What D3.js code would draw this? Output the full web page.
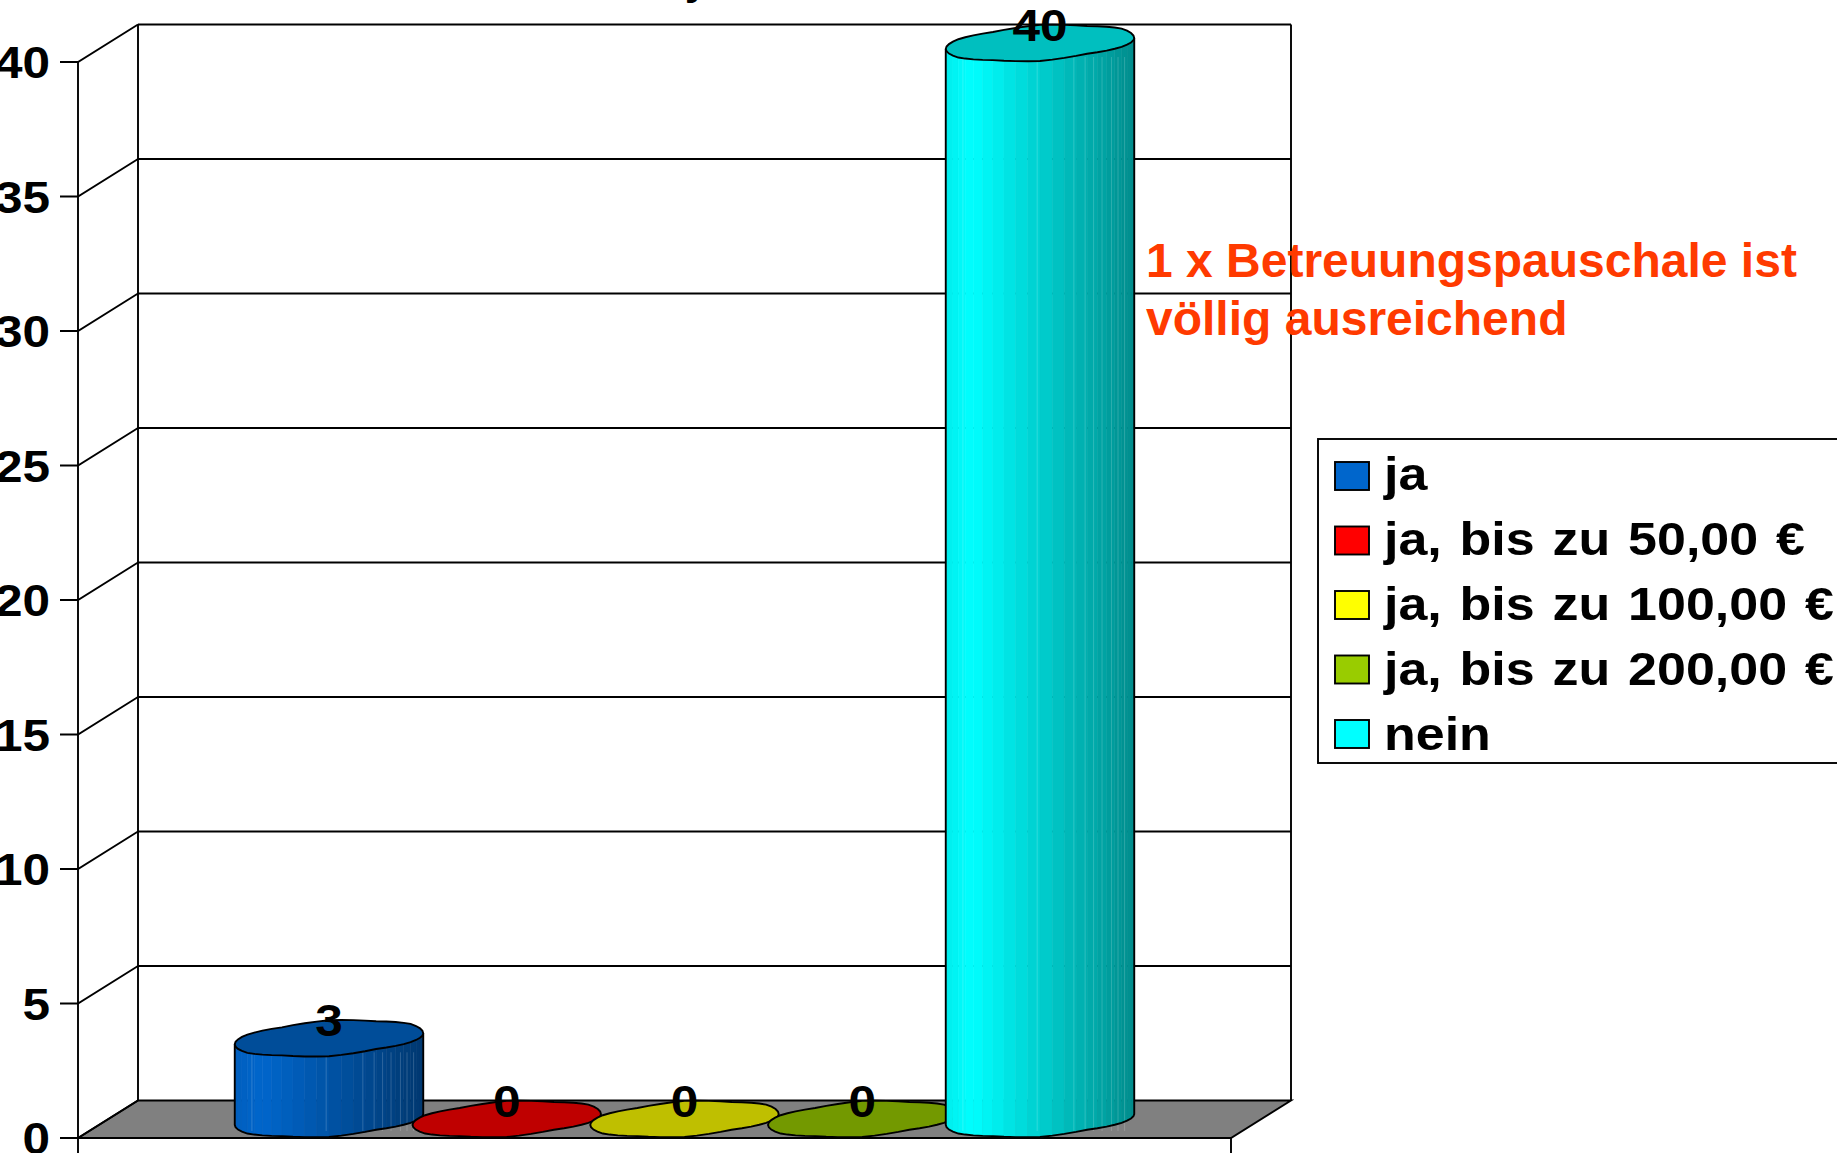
<!DOCTYPE html>
<html>
<head>
<meta charset="utf-8">
<script src="https://cdn.jsdelivr.net/npm/d3@7"></script>
<style>
  html, body { margin: 0; padding: 0; background: #fff; overflow: hidden; }
  text { font-family: "Liberation Sans", Arial, sans-serif; font-weight: bold; }
</style>
</head>
<body>
<div id="chart"></div>
<script>
var categories = ['ja', 'ja, bis zu 50,00 €', 'ja, bis zu 100,00 €', 'ja, bis zu 200,00 €', 'nein'];
var values = [3, 0, 0, 0, 40];
var colors = ['#0066cc', '#ff0000', '#ffff00', '#99cc00', '#00ffff'];
var yTicks = [0, 5, 10, 15, 20, 25, 30, 35, 40];
var noteLines = ['1 x Betreuungspauschale ist', 'völlig ausreichend'];

var width = 1837, height = 1153;
var depthX = 60, depthY = 37.5;          // offset of the back wall
var frontLeft = 78, frontRight = 1231;
var lineW = 1.9;

// small irregularity of the rims, the original polygons are not clean ellipses
var rimWobble = [0, 0.9, -0.6, 1, -1, 0.5, 1.1, -0.8, 0.7, -1.1, 0.8, -0.4];
// where the facets of the cylinder side show a seam, as part of its width
var seams = [0.09, 0.485, 0.68, 0.74, 0.785, 0.83, 0.88, 0.915, 0.95];

var svg = d3.select('#chart').append('svg')
    .attr('width', width)
    .attr('height', height);

var x = d3.scalePoint().domain(categories).range([329, 1040]);
var y = d3.scaleLinear().domain([0, 40]).range([1138, 62]);

function wideText(sel, px, py, anchor, size, stretch) {
  return sel.attr('transform', 'translate(' + px + ',' + py + ') scale(' + stretch + ',1)')
      .attr('text-anchor', anchor)
      .attr('font-size', size);
}

// floor
svg.append('path')
    .attr('d', d3.line()([
      [frontLeft, y(0)], [frontLeft + depthX, y(0) - depthY],
      [frontRight + depthX, y(0) - depthY], [frontRight, y(0)]
    ]) + 'Z')
    .attr('fill', '#808080')
    .attr('stroke', '#000')
    .attr('stroke-width', lineW);

// back wall grid
svg.append('g').selectAll('line')
    .data(yTicks.filter(function(d) { return d > 0; }))
  .enter().append('line')
    .attr('x1', frontLeft + depthX)
    .attr('x2', frontRight + depthX)
    .attr('y1', function(d) { return y(d) - depthY; })
    .attr('y2', function(d) { return y(d) - depthY; })
    .attr('stroke', '#000')
    .attr('stroke-width', lineW);

// side wall lines and ticks
svg.append('g').selectAll('path')
    .data(yTicks)
  .enter().append('path')
    .attr('d', function(d) {
      return 'M60,' + y(d) + 'H' + frontLeft + 'L' + (frontLeft + depthX) + ',' + (y(d) - depthY);
    })
    .attr('fill', 'none')
    .attr('stroke', '#000')
    .attr('stroke-width', lineW);

// verticals
[[frontLeft, y(40), height], [frontLeft + depthX, y(40) - depthY, y(0) - depthY],
 [frontRight + depthX, y(40) - depthY, y(0) - depthY], [frontRight, y(0), height]].forEach(function(v) {
  svg.append('line')
      .attr('x1', v[0]).attr('x2', v[0])
      .attr('y1', v[1]).attr('y2', v[2])
      .attr('stroke', '#000')
      .attr('stroke-width', lineW);
});

// tick labels
svg.append('g').selectAll('text')
    .data(yTicks)
  .enter().append('text')
    .text(function(d) { return d; })
    .each(function(d) { wideText(d3.select(this), 50, y(d) + 16, 'end', 45, 1.1); });

// cut off title, only a descender is left of it
svg.append('text')
    .text('y')
    .attr('x', 697)
    .attr('y', -6)
    .attr('text-anchor', 'middle')
    .attr('font-size', 44);

// cylinders
var rimA = 89, rimB = 31, rimC = 18, rimLift = 19, steps = 48;
var leftAngle = Math.PI + Math.atan2(rimB, rimA);
var shade = d3.scaleLinear().domain([0, 0.14, 1]).range([0.93, 1, 0.55]);

function rimPoint(cx, cy, t, i) {
  // keep the wobble slow, one value every 4 steps
  var p = ((i / 4) % rimWobble.length + rimWobble.length) % rimWobble.length;
  var a = Math.floor(p), f = p - a;
  var w = rimWobble[a] * (1 - f) + rimWobble[(a + 1) % rimWobble.length] * f;
  return [cx + rimA * Math.cos(t) + rimB * Math.sin(t), cy - rimC * Math.sin(t) + w];
}

function frontAngle(i) {
  return leftAngle + i * Math.PI / (steps / 2);
}

function stripColor(base, cx, cy, i) {
  var mid = rimPoint(cx, cy, frontAngle(i + 0.5), 0)[0];
  var s = shade((mid - (cx - 94)) / 188);
  return d3.rgb(base.r * s, base.g * s, base.b * s).formatHex();
}

var cyl = svg.append('g').selectAll('g')
    .data(values)
  .enter().append('g');

cyl.each(function(v, k) {
  var g = d3.select(this);
  var cx = x(categories[k]);
  var topY = y(v) - rimLift, botY = y(0) - rimLift;
  var base = d3.rgb(colors[k]);
  var i;

  if (v > 0) {
    var strips = d3.range(steps / 2);

    g.selectAll('path.strip')
        .data(strips)
      .enter().append('path')
        .attr('class', 'strip')
        .attr('d', function(i) {
          return d3.line()([
            rimPoint(cx, topY, frontAngle(i), i), rimPoint(cx, topY, frontAngle(i + 1), i + 1),
            rimPoint(cx, botY, frontAngle(i + 1), i + 1), rimPoint(cx, botY, frontAngle(i), i)
          ]) + 'Z';
        })
        .attr('fill', function(i) { return stripColor(base, cx, topY, i); })
        .attr('stroke', function(i) { return stripColor(base, cx, topY, i); })
        .attr('stroke-width', 0.6);

    g.selectAll('line.seam')
        .data(seams)
      .enter().append('line')
        .attr('class', 'seam')
        .attr('x1', function(d) { return cx - 94 + d * 188; })
        .attr('x2', function(d) { return cx - 94 + d * 188; })
        .attr('y1', topY + 14)
        .attr('y2', botY + 12)
        .attr('stroke', '#fff')
        .attr('stroke-opacity', 0.18)
        .attr('stroke-width', 1);

    // silhouette of the side
    var outline = [];
    for (i = 0; i <= steps / 2; i++) outline.push(rimPoint(cx, botY, frontAngle(i), i));
    outline.unshift(rimPoint(cx, topY, frontAngle(0), 0));
    outline.push(rimPoint(cx, topY, frontAngle(steps / 2), steps / 2));
    g.append('path')
        .attr('d', d3.line()(outline))
        .attr('fill', 'none')
        .attr('stroke', '#000')
        .attr('stroke-width', lineW);
  }

  // top face
  var rim = [];
  for (i = 0; i < steps; i++) rim.push(rimPoint(cx, topY, frontAngle(i), i));
  g.append('path')
      .attr('d', d3.line()(rim) + 'Z')
      .attr('fill', d3.rgb(base.r * 0.75, base.g * 0.75, base.b * 0.75).formatHex())
      .attr('stroke', '#000')
      .attr('stroke-width', lineW);
});

// value labels on top of all cylinders
svg.append('g').selectAll('text')
    .data(values)
  .enter().append('text')
    .text(function(d) { return d; })
    .each(function(d, k) { wideText(d3.select(this), x(categories[k]), y(d) - 21, 'middle', 45, 1.1); });

// note
svg.append('g').selectAll('text')
    .data(noteLines)
  .enter().append('text')
    .text(function(d) { return d; })
    .attr('x', 1146)
    .attr('y', function(d, i) { return 277 + i * 58; })
    .attr('font-size', 48)
    .attr('fill', '#ff3a00');

// legend
svg.append('rect')
    .attr('x', 1318).attr('y', 439)
    .attr('width', 560).attr('height', 324)
    .attr('fill', '#fff')
    .attr('stroke', '#000')
    .attr('stroke-width', lineW);

var legendY = d3.scalePoint().domain(categories).range([462, 720]);
var legendText = d3.scalePoint().domain(categories).range([490, 750]);

svg.append('g').selectAll('rect')
    .data(categories)
  .enter().append('rect')
    .attr('x', 1335)
    .attr('y', function(d) { return legendY(d); })
    .attr('width', 34)
    .attr('height', 28)
    .attr('fill', function(d, i) { return colors[i]; })
    .attr('stroke', '#000')
    .attr('stroke-width', lineW);

svg.append('g').selectAll('text')
    .data(categories)
  .enter().append('text')
    .text(function(d) { return d; })
    .attr('word-spacing', 3)
    .each(function(d) { wideText(d3.select(this), 1384, legendText(d), 'start', 46, 1.13); });
</script>
</body>
</html>
